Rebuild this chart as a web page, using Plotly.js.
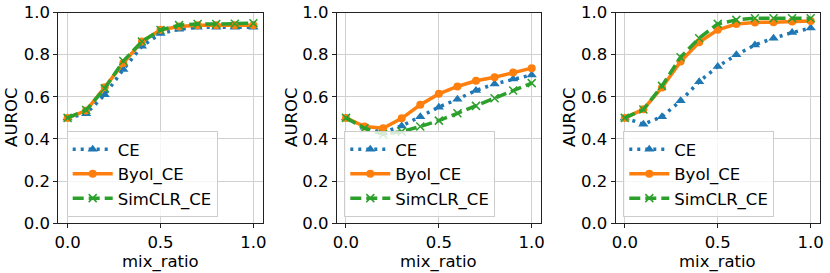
<!DOCTYPE html>
<html>
<head>
<meta charset="utf-8">
<script src="https://cdn.plot.ly/plotly-3.0.1.min.js"></script>
<style>html,body{margin:0;padding:0;background:#fff;}#chart{width:830px;height:273px;}</style>
</head>
<body>
<div id="chart"></div>
<script>
const mixRatio = [0.0, 0.1, 0.2, 0.3, 0.4, 0.5, 0.6, 0.7, 0.8, 0.9, 1.0];
const seriesNames = ["CE", "Byol_CE", "SimCLR_CE"];

// Panel 1
const p1_CE     = [0.50, 0.52, 0.61, 0.73, 0.84, 0.90, 0.92, 0.93, 0.93, 0.93, 0.93];
const p1_Byol   = [0.50, 0.535, 0.645, 0.76, 0.862, 0.918, 0.934, 0.94, 0.94, 0.94, 0.94];
const p1_SimCLR = [0.50, 0.537, 0.64, 0.77, 0.862, 0.917, 0.94, 0.945, 0.945, 0.947, 0.949];
// Panel 2
const p2_CE     = [0.50, 0.456, 0.43, 0.462, 0.506, 0.551, 0.589, 0.63, 0.661, 0.684, 0.704];
const p2_Byol   = [0.50, 0.459, 0.451, 0.498, 0.562, 0.614, 0.649, 0.676, 0.693, 0.715, 0.736];
const p2_SimCLR = [0.50, 0.451, 0.422, 0.435, 0.459, 0.487, 0.522, 0.557, 0.593, 0.63, 0.665];
// Panel 3
const p3_CE     = [0.50, 0.47, 0.506, 0.581, 0.672, 0.744, 0.799, 0.846, 0.878, 0.905, 0.926];
const p3_Byol   = [0.50, 0.541, 0.644, 0.767, 0.859, 0.918, 0.945, 0.953, 0.954, 0.957, 0.96];
const p3_SimCLR = [0.50, 0.54, 0.652, 0.788, 0.878, 0.946, 0.965, 0.973, 0.973, 0.973, 0.973];

const yTicks = [0.0, 0.2, 0.4, 0.6, 0.8, 1.0];
const xTicks = [0.0, 0.5, 1.0];
const xTitle = "mix_ratio";
const yTitle = "AUROC";

const panels = [
  [p1_CE, p1_Byol, p1_SimCLR],
  [p2_CE, p2_Byol, p2_SimCLR],
  [p3_CE, p3_Byol, p3_SimCLR]
];

const styles = [
  {color: "#1f77b4", dash: "3px,5px", symbol: "triangle-up", size: 9, mline: 0},
  {color: "#ff7f0e", dash: "solid", symbol: "circle", size: 8, mline: 0},
  {color: "#2ca02c", dash: "11px,5px", symbol: "x-thin", size: 8, mline: 1.5}
];

const traces = [];
panels.forEach((pan, pi) => {
  pan.forEach((vals, si) => {
    const st = styles[si];
    traces.push({
      x: mixRatio, y: vals, type: "scatter", mode: "lines+markers",
      name: seriesNames[si],
      xaxis: pi === 0 ? "x" : "x" + (pi + 1),
      yaxis: pi === 0 ? "y" : "y" + (pi + 1),
      legend: pi === 0 ? "legend" : "legend" + (pi + 1),
      line: {color: st.color, width: 3.5, dash: st.dash},
      marker: {symbol: st.symbol, size: st.size, color: st.color,
               line: {color: st.color, width: st.mline}}
    });
  });
});

const font = {family: "DejaVu Sans", size: 16.5, color: "#000"};
const domainsX = [[58.3/830, 262.7/830], [336.7/830, 541/830], [615.5/830, 820/830]];
const yDom = [1 - 223.3/273, 1 - 12.5/273];

const layout = {
  width: 830, height: 273,
  margin: {l: 0, r: 0, t: 0, b: 0},
  paper_bgcolor: "#fff", plot_bgcolor: "#fff",
  font: font,
  showlegend: true,
  annotations: []
};

function xa(dom) {
  return {domain: dom, range: [-0.05, 1.05], tickvals: xTicks, tickformat: ".1f",
    showgrid: true, gridcolor: "#d0d0d0", gridwidth: 1, zeroline: false,
    showline: true, linecolor: "#222", linewidth: 1, mirror: true,
    ticks: "outside", ticklen: 4, tickcolor: "#222", tickfont: font};
}
function ya(anchor) {
  return {domain: yDom, range: [0, 1], tickvals: yTicks, tickformat: ".1f", anchor: anchor,
    showgrid: true, gridcolor: "#d0d0d0", gridwidth: 1, zeroline: false,
    showline: true, linecolor: "#222", linewidth: 1, mirror: true,
    ticks: "outside", ticklen: 4, tickcolor: "#222", tickfont: font};
}
layout.xaxis = Object.assign(xa(domainsX[0]), {anchor: "y"}); layout.yaxis = ya("x");
layout.xaxis2 = Object.assign(xa(domainsX[1]), {anchor: "y2"}); layout.yaxis2 = ya("x2");
layout.xaxis3 = Object.assign(xa(domainsX[2]), {anchor: "y3"}); layout.yaxis3 = ya("x3");

const yTitleX = [12, 292, 570];
domainsX.forEach((d, i) => {
  layout.annotations.push({text: xTitle, xref: "paper", yref: "paper",
    x: (d[0] + d[1]) / 2, y: 1 - 262/273, xanchor: "center", yanchor: "middle",
    showarrow: false, font: font, borderpad: 0});
  layout.annotations.push({text: yTitle, xref: "paper", yref: "paper",
    x: yTitleX[i]/830, y: (yDom[0] + yDom[1]) / 2, xanchor: "center", yanchor: "middle",
    textangle: -90, showarrow: false, font: font, borderpad: 0});
});

const legX = [66.7, 344.3, 623.3];
["legend", "legend2", "legend3"].forEach((k, i) => {
  layout[k] = {x: legX[i]/830, y: 1 - 217/273, xanchor: "left", yanchor: "bottom",
    bgcolor: "rgba(255,255,255,0.8)", bordercolor: "#cccccc", borderwidth: 1,
    font: font, itemwidth: 40, tracegroupgap: 0};
});

Plotly.newPlot("chart", traces, layout, {staticPlot: true});
</script>
</body>
</html>
